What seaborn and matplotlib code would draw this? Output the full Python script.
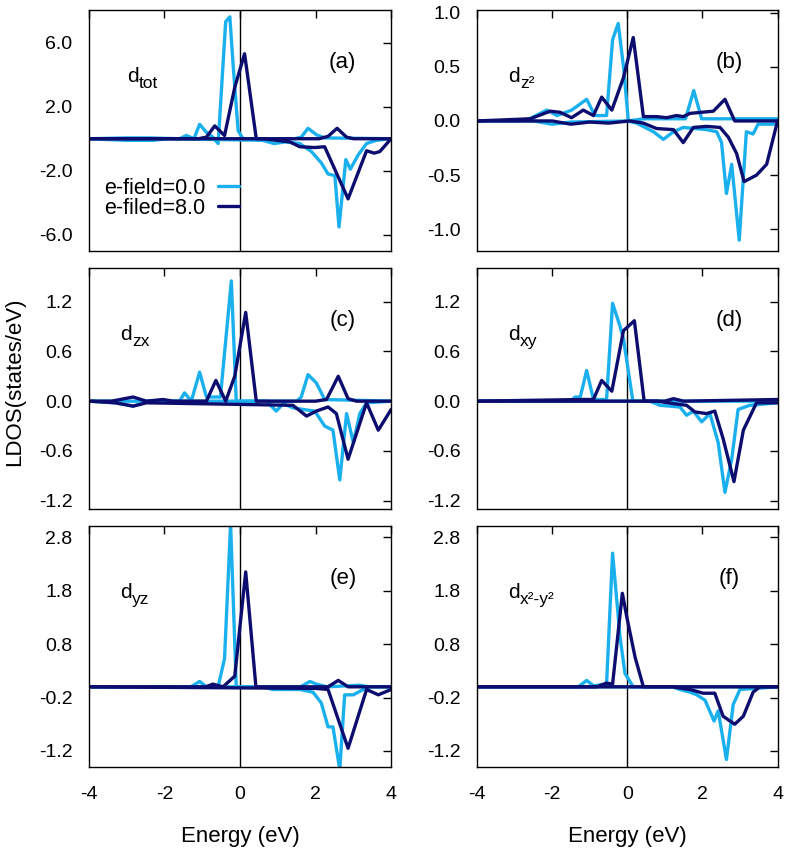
import numpy as np
import pandas as pd
import seaborn as sns
import matplotlib
matplotlib.use("Agg")
import matplotlib.pyplot as plt
from matplotlib.ticker import FormatStrFormatter

# %%
# LDOS data (energy in eV, LDOS in states/eV)
# e-field = 0.0 (light) and e-field = 8.0 (dark); up = positive, dn = negative

# (a) d_tot
a_e0_up_x = [-4, -3.0, -2.4, -1.6, -1.42, -1.22, -1.07, -0.89, -0.72, -0.58, -0.38, -0.27, -0.18, -0.05, 0.08, 1.45, 1.62, 1.8, 2.02, 2.24, 4]
a_e0_up_y = [0, 0.05, 0.05, 0, 0.2, 0, 0.9, 0.4, 0.1, -0.3, 7.3, 7.6, 4.5, 0.5, 0, 0, 0.1, 0.65, 0.25, 0.05, 0]
a_e0_dn_x = [-4, -3.0, -2.3, -1.9, 0.6, 0.9, 1.2, 1.58, 1.89, 2.15, 2.33, 2.51, 2.62, 2.8, 2.92, 3.13, 3.35, 3.6, 4]
a_e0_dn_y = [0, -0.1, -0.1, 0, -0.1, -0.3, -0.2, -0.3, -0.8, -1.5, -2.2, -2.3, -5.5, -1.3, -1.9, -1.0, -0.3, -0.1, 0]
a_e8_up_x = [-4, -1.1, -0.89, -0.67, -0.41, -0.14, 0.12, 0.43, 2.1, 2.33, 2.57, 2.82, 3.0, 4]
a_e8_up_y = [0, 0, 0.1, 0.8, 0.2, 3.2, 5.3, 0, 0, 0.15, 0.65, 0.1, 0, 0]
a_e8_dn_x = [-4, 0.6, 1.32, 1.58, 1.98, 2.24, 2.86, 3.35, 3.55, 3.7, 4]
a_e8_dn_y = [0, 0, -0.2, -0.5, -0.55, -0.5, -3.75, -0.75, -0.9, -0.8, 0]

# (b) d_z2
b_e0_up_x = [-4, -2.9, -2.6, -2.14, -1.87, -1.48, -1.08, -0.86, -0.55, -0.39, -0.24, -0.1, 0.03, 0.43, 1.55, 1.77, 1.98, 4]
b_e0_up_y = [0, 0.0, 0.02, 0.1, 0.05, 0.1, 0.2, 0.05, 0.05, 0.75, 0.9, 0.5, 0, 0.02, 0.02, 0.28, 0.02, 0.02]
b_e0_dn_x = [-4, -2.5, -2.0, -1.5, 0.0, 0.25, 0.7, 0.96, 1.23, 1.49, 2.11, 2.38, 2.51, 2.64, 2.78, 2.98, 3.17, 3.35, 3.48, 4]
b_e0_dn_y = [0, 0, -0.03, -0.01, 0, -0.02, -0.1, -0.17, -0.1, -0.06, -0.08, -0.1, -0.2, -0.67, -0.4, -1.1, -0.1, -0.12, -0.03, -0.03]
b_e8_up_x = [-4, -2.58, -2.05, -1.79, -1.48, -1.17, -0.9, -0.68, -0.41, -0.1, 0.16, 0.43, 0.78, 1.05, 1.31, 1.49, 1.67, 2.29, 2.6, 2.86, 4]
b_e8_up_y = [0, 0.02, 0.09, 0.08, 0.03, 0.1, 0.05, 0.22, 0.1, 0.4, 0.77, 0.04, 0.04, 0.03, 0.05, 0.04, 0.07, 0.09, 0.2, 0.0, 0]
b_e8_dn_x = [-4, -2.0, -1.5, -1.0, -0.5, 0.07, 0.43, 0.78, 1.23, 1.49, 1.76, 2.11, 2.47, 2.69, 2.91, 3.11, 3.44, 3.71, 4]
b_e8_dn_y = [0, 0, -0.03, -0.01, -0.02, 0, -0.02, -0.07, -0.08, -0.2, -0.06, -0.05, -0.06, -0.15, -0.3, -0.56, -0.5, -0.4, 0]

# (c) d_zx
c_e0_up_x = [-4, -1.6, -1.47, -1.29, -1.07, -0.89, -0.52, -0.23, -0.1, 1.5, 1.62, 1.8, 2.02, 2.24, 4]
c_e0_up_y = [0, 0, 0.1, 0.0, 0.35, 0.05, 0.05, 1.45, 0, 0, 0.05, 0.32, 0.22, 0.02, 0]
c_e0_dn_x = [-4, -3.3, -2.83, -2.4, 0.7, 0.96, 1.14, 1.4, 1.67, 1.98, 2.24, 2.46, 2.64, 2.82, 3.0, 3.17, 3.35, 4]
c_e0_dn_y = [0, -0.02, -0.06, 0, 0, -0.12, -0.03, -0.08, -0.1, -0.12, -0.3, -0.35, -0.95, -0.15, -0.5, -0.15, -0.02, 0]
c_e8_up_x = [-4, -3.4, -2.83, -2.48, -2.04, -1.77, -0.89, -0.64, -0.38, -0.14, 0.15, 0.43, 2.0, 2.29, 2.6, 2.86, 3.08, 4]
c_e8_up_y = [0, 0.0, 0.05, 0.0, 0.02, 0.0, 0, 0.25, 0.0, 0.3, 1.07, 0, 0, 0.02, 0.3, 0.03, 0, 0]
c_e8_dn_x = [-4, -3.3, -2.83, -2.48, 1.4, 1.76, 2.02, 2.33, 2.55, 2.86, 3.35, 3.66, 4]
c_e8_dn_y = [0, -0.02, -0.06, -0.02, -0.05, -0.18, -0.12, -0.07, -0.15, -0.7, -0.02, -0.35, -0.1]

# (d) d_xy
d_e0_up_x = [-4, -1.5, -1.39, -1.25, -1.08, -0.9, -0.55, -0.39, -0.19, -0.1, 0.15, 4]
d_e0_up_y = [0, 0, 0.05, 0.05, 0.37, 0.02, 0.02, 1.18, 0.9, 0.75, 0, 0]
d_e0_dn_x = [-4, 0.6, 0.87, 1.4, 1.58, 1.76, 1.98, 2.2, 2.42, 2.6, 2.78, 2.95, 3.26, 4]
d_e0_dn_y = [0, 0, -0.05, -0.07, -0.17, -0.12, -0.25, -0.15, -0.5, -1.1, -0.7, -0.1, -0.05, -0.02]
d_e8_up_x = [-4, -1.17, -0.9, -0.68, -0.41, -0.1, 0.19, 0.45, 1.0, 1.23, 1.5, 4]
d_e8_up_y = [0, 0.02, 0.02, 0.25, 0.12, 0.85, 0.97, 0.0, 0.0, 0.03, 0.0, 0.02]
d_e8_dn_x = [-4, 0.8, 1.23, 1.58, 1.8, 2.11, 2.33, 2.55, 2.84, 3.09, 3.44, 4]
d_e8_dn_y = [0, 0, -0.03, -0.05, -0.13, -0.15, -0.12, -0.45, -0.97, -0.35, -0.02, -0.02]

# (e) d_yz
e_e0_up_x = [-4, -1.3, -1.07, -0.89, -0.58, -0.41, -0.25, -0.1, 1.6, 1.85, 2.02, 2.3, 3.17, 3.4, 4]
e_e0_up_y = [0, 0, 0.1, 0.0, 0.0, 0.53, 3.05, 0, 0, 0.1, 0.05, 0, 0.03, 0, 0]
e_e0_dn_x = [-4, 0.6, 0.87, 1.58, 1.93, 2.15, 2.33, 2.46, 2.64, 2.77, 3.0, 3.26, 3.44, 4]
e_e0_dn_y = [0, 0, -0.05, -0.05, -0.1, -0.3, -0.75, -0.75, -1.55, -0.15, -0.15, -0.05, 0, 0]
e_e8_up_x = [-4, -0.9, -0.72, -0.45, -0.14, 0.15, 0.42, 2.33, 2.6, 2.86, 4]
e_e8_up_y = [0, 0, 0.05, 0.0, 0.2, 2.15, 0, 0.0, 0.12, 0.0, 0]
e_e8_dn_x = [-4, 2.02, 2.33, 2.86, 3.35, 3.66, 4]
e_e8_dn_y = [0, -0.03, -0.05, -1.15, -0.05, -0.15, -0.05]

# (f) d_x2-y2
f_e0_up_x = [-4, -1.3, -1.08, -0.9, -0.55, -0.39, -0.19, -0.06, 0.16, 4]
f_e0_up_y = [0, 0, 0.12, 0.02, 0.05, 2.5, 0.92, 0.25, 0, 0]
f_e0_dn_x = [-4, 1.2, 1.4, 1.67, 1.85, 2.07, 2.31, 2.42, 2.64, 2.82, 3.0, 4]
f_e0_dn_y = [0, 0, -0.05, -0.1, -0.15, -0.25, -0.64, -0.45, -1.36, -0.33, -0.05, 0]
f_e8_up_x = [-4, -0.81, -0.55, -0.39, -0.13, -0.01, 0.21, 0.43, 4]
f_e8_up_y = [0, 0.0, 0.07, 0.05, 1.75, 1.3, 0.55, 0, 0]
f_e8_dn_x = [-4, 1.2, 1.67, 2.02, 2.33, 2.55, 2.86, 3.09, 3.35, 3.53, 4]
f_e8_dn_y = [0, 0, -0.05, -0.12, -0.12, -0.55, -0.7, -0.55, -0.1, 0, 0]

fields = ['e-field=0.0', 'e-filed=8.0']
colors = ['#1ab0ee', '#0d0d70']
orbital_subs = ['tot', 'z²', 'zx', 'xy', 'yz', 'x²-y²']
tags = ['(a)', '(b)', '(c)', '(d)', '(e)', '(f)']
ylims = [(-7, 8), (-1.2, 1.02), (-1.3, 1.6), (-1.3, 1.6), (-1.5, 3.0), (-1.5, 3.0)]
yticks = [[-6, -2, 2, 6], [-1.0, -0.5, 0.0, 0.5, 1.0], [-1.2, -0.6, 0.0, 0.6, 1.2],
          [-1.2, -0.6, 0.0, 0.6, 1.2], [-1.2, -0.2, 0.8, 1.8, 2.8], [-1.2, -0.2, 0.8, 1.8, 2.8]]

curves = {
    'a': [(a_e0_up_x, a_e0_up_y), (a_e0_dn_x, a_e0_dn_y), (a_e8_up_x, a_e8_up_y), (a_e8_dn_x, a_e8_dn_y)],
    'b': [(b_e0_up_x, b_e0_up_y), (b_e0_dn_x, b_e0_dn_y), (b_e8_up_x, b_e8_up_y), (b_e8_dn_x, b_e8_dn_y)],
    'c': [(c_e0_up_x, c_e0_up_y), (c_e0_dn_x, c_e0_dn_y), (c_e8_up_x, c_e8_up_y), (c_e8_dn_x, c_e8_dn_y)],
    'd': [(d_e0_up_x, d_e0_up_y), (d_e0_dn_x, d_e0_dn_y), (d_e8_up_x, d_e8_up_y), (d_e8_dn_x, d_e8_dn_y)],
    'e': [(e_e0_up_x, e_e0_up_y), (e_e0_dn_x, e_e0_dn_y), (e_e8_up_x, e_e8_up_y), (e_e8_dn_x, e_e8_dn_y)],
    'f': [(f_e0_up_x, f_e0_up_y), (f_e0_dn_x, f_e0_dn_y), (f_e8_up_x, f_e8_up_y), (f_e8_dn_x, f_e8_dn_y)],
}

# %%
sns.set_theme(style="white")
plt.rcParams['font.family'] = ['Liberation Sans', 'DejaVu Sans']
plt.rcParams['axes.unicode_minus'] = False
plt.rcParams['axes.edgecolor'] = 'black'
plt.rcParams['axes.linewidth'] = 1.0
plt.rcParams['text.color'] = 'black'
plt.rcParams['axes.labelcolor'] = 'black'
plt.rcParams['xtick.color'] = 'black'
plt.rcParams['ytick.color'] = 'black'

fig = plt.figure(figsize=(7.87, 8.49), dpi=100)

lefts = [0.113, 0.606]
widths = [0.384, 0.382]
bottoms = [0.7044, 0.4005, 0.0966]
height = 0.2833

for i, key in enumerate('abcdef'):
    row, col = divmod(i, 2)
    ax = fig.add_axes([lefts[col], bottoms[row], widths[col], height])

    rows = []
    for j, (xs, ys) in enumerate(curves[key]):
        fld = fields[j // 2]
        spin = 'up' if j % 2 == 0 else 'dn'
        for x, y in zip(xs, ys):
            rows.append({'E': x, 'LDOS': y, 'field': fld, 'spin': spin})
    df = pd.DataFrame(rows)

    ax.axvline(0, color='black', lw=1.0, zorder=1)
    sns.lineplot(data=df, x='E', y='LDOS', hue='field', units='spin',
                 estimator=None, sort=False, hue_order=fields,
                 palette=colors, lw=2.4, ax=ax, legend=(key == 'a'), zorder=2)

    ax.set_xlim(-4, 4)
    ax.set_ylim(*ylims[i])
    ax.set_xticks([-4, -2, 0, 2, 4])
    ax.set_yticks(yticks[i])
    ax.yaxis.set_major_formatter(FormatStrFormatter('%.1f'))
    ax.tick_params(direction='in', length=6, width=1.0, top=True, right=True,
                   labelsize=14)
    ax.tick_params(axis='y', pad=12)
    ax.tick_params(axis='x', pad=14)
    if row < 2:
        ax.set_xticklabels([])
        ax.set_xlabel('')
    else:
        ax.set_xlabel('Energy (eV)', fontsize=16, labelpad=16)
    ax.set_ylabel('')

    # orbital label: "d" with a subscript
    lx = 0.126 if key == 'a' else 0.103
    ax.text(lx, 0.725, 'd', transform=ax.transAxes, fontsize=15,
            ha='left', va='center')
    ax.annotate(orbital_subs[i], xy=(lx, 0.725), xycoords='axes fraction',
                xytext=(8.6, -5), textcoords='offset points', fontsize=12.5,
                ha='left', va='center')
    ax.text(0.84, 0.784, tags[i], transform=ax.transAxes,
            fontsize=16, ha='center', va='center')

    if key == 'a':
        handles, labels = ax.get_legend_handles_labels()
        ax.legend(handles, labels, loc='center right', bbox_to_anchor=(0.495, 0.22),
                  frameon=False, markerfirst=False, fontsize=15.5, handlelength=0.95,
                  handletextpad=0.6, labelspacing=-0.05, borderpad=0, borderaxespad=0)

fig.text(0.019, 1 - 382 / 849, 'LDOS(states/eV)', rotation=90, fontsize=16,
         ha='center', va='center')

plt.savefig('out.png', dpi=100)
